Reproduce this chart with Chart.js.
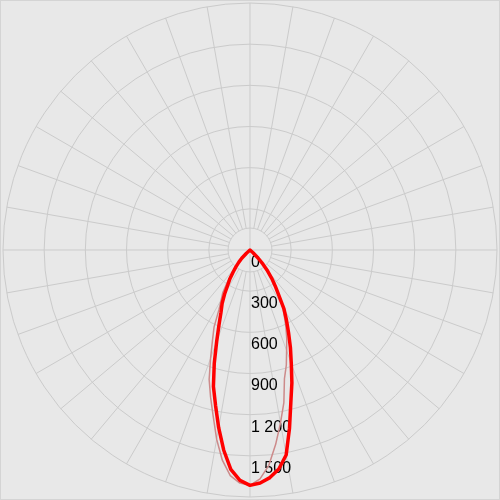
<!DOCTYPE html>
<html>
<head>
<meta charset="utf-8">
<script src="https://cdn.jsdelivr.net/npm/chart.js@4/dist/chart.umd.min.js"></script>
<style>
  html, body { margin: 0; padding: 0; background: #e8e8e8; }
  #wrap { width: 500px; height: 500px; position: relative; }
</style>
</head>
<body>
<div id="wrap"><canvas id="c"></canvas></div>
<script>
// Angles (degrees away from nadir), 2.5° step
const gammaDeg = [0, 2.5, 5, 7.5, 10, 12.5, 15, 17.5, 20, 22.5, 25, 27.5, 30, 32.5, 35, 37.5, 40, 42.5, 45, 47.5, 50];
// Main plane (thick red): left half and right half, cd
const thickLeft  = [1715, 1680, 1605, 1470, 1315, 1160, 1030, 866, 710, 590, 500, 440, 370, 300, 255, 200, 160, 120, 85, 35, 0];
const thickRight = [1715, 1700, 1665, 1610, 1517, 1330, 1150, 1015, 880, 770, 665, 575, 495, 390, 320, 260, 200, 140, 85, 30, 0];
// Second plane (thin)
const thinLeft   = [1718, 1700, 1650, 1545, 1400, 1240, 1110, 990, 840, 715, 620, 490, 420, 370, 290, 220, 165, 120, 85, 35, 0];
const thinRight  = [1712, 1670, 1575, 1430, 1280, 1140, 970, 880, 780, 700, 620, 540, 475, 390, 310, 250, 195, 140, 85, 30, 0];
// Radial scale
const scaleMax = 1800;
const scaleStep = 300;
const tickValues = [0, 300, 600, 900, 1200, 1500];
const tickLabels = ['0', '300', '600', '900', '1 200', '1 500'];
const innerCircleValue = 160;

const STEP = 2.5;
const N = Math.round(360 / STEP);
const labels = Array.from({length: N}, (_, i) => i * STEP);

function buildSeries(left, right) {
  const arr = new Array(N).fill(0);
  gammaDeg.forEach((g, k) => {
    const iL = Math.round(g / STEP) % N;
    arr[iL] = left[k];
    const iR = (N - Math.round(g / STEP)) % N;
    if (g !== 0) arr[iR] = right[k];
    else arr[0] = (left[k] + right[k]) / 2;
  });
  return arr;
}

const GRID = '#cbcbcb';

const bgPlugin = {
  id: 'bg',
  beforeDraw(chart) {
    const ctx = chart.ctx;
    ctx.save();
    ctx.fillStyle = '#e8e8e8';
    ctx.fillRect(0, 0, chart.width, chart.height);
    ctx.strokeStyle = '#d4d4d4';
    ctx.lineWidth = 1;
    ctx.strokeRect(0.5, 0.5, chart.width - 1, chart.height - 1);
    ctx.restore();
  },
  beforeDatasetsDraw(chart) {
    const s = chart.scales.r;
    const ctx = chart.ctx;
    ctx.save();
    ctx.strokeStyle = GRID;
    ctx.lineWidth = 1;
    // radial lines every 10°
    for (let i = 0; i < N; i += 4) {
      const isAxis = (i % 36) === 0;
      const p0 = s.getPointPositionForValue(i, isAxis ? 0 : innerCircleValue);
      const p1 = s.getPointPositionForValue(i, scaleMax);
      ctx.beginPath();
      ctx.moveTo(p0.x, p0.y);
      ctx.lineTo(p1.x, p1.y);
      ctx.stroke();
    }
    // inner circle
    ctx.beginPath();
    ctx.arc(s.xCenter, s.yCenter, s.getDistanceFromCenterForValue(innerCircleValue), 0, Math.PI * 2);
    ctx.stroke();
    // tick labels below center
    ctx.fillStyle = '#000';
    ctx.font = '16px "Liberation Sans", Arial, sans-serif';
    ctx.textAlign = 'left';
    ctx.textBaseline = 'middle';
    tickValues.forEach((v, k) => {
      const d = s.getDistanceFromCenterForValue(v);
      ctx.fillText(tickLabels[k], s.xCenter + 1, s.yCenter + d + 12.5);
    });
    ctx.restore();
  }
};

new Chart(document.getElementById('c'), {
  type: 'radar',
  data: {
    labels: labels,
    datasets: [
      {
        data: buildSeries(thickLeft, thickRight),
        borderColor: '#ff0000',
        borderWidth: 3.5,
        borderJoinStyle: 'round',
        pointRadius: 0,
        fill: false,
        tension: 0
      },
      {
        data: buildSeries(thinLeft, thinRight),
        borderColor: '#cc8a8a',
        borderWidth: 1.5,
        borderJoinStyle: 'round',
        pointRadius: 0,
        fill: false,
        tension: 0
      }
    ]
  },
  options: {
    responsive: true,
    maintainAspectRatio: false,
    animation: false,
    devicePixelRatio: 1,
    layout: { padding: 3 },
    plugins: { legend: { display: false }, tooltip: { enabled: false } },
    elements: { line: { borderCapStyle: 'round' } },
    scales: {
      r: {
        min: 0,
        max: scaleMax,
        startAngle: 180,
        ticks: { stepSize: scaleStep, display: false },
        pointLabels: { display: false },
        angleLines: { display: false },
        grid: { circular: true, color: GRID, lineWidth: 1 }
      }
    }
  },
  plugins: [bgPlugin]
});
</script>
</body>
</html>
